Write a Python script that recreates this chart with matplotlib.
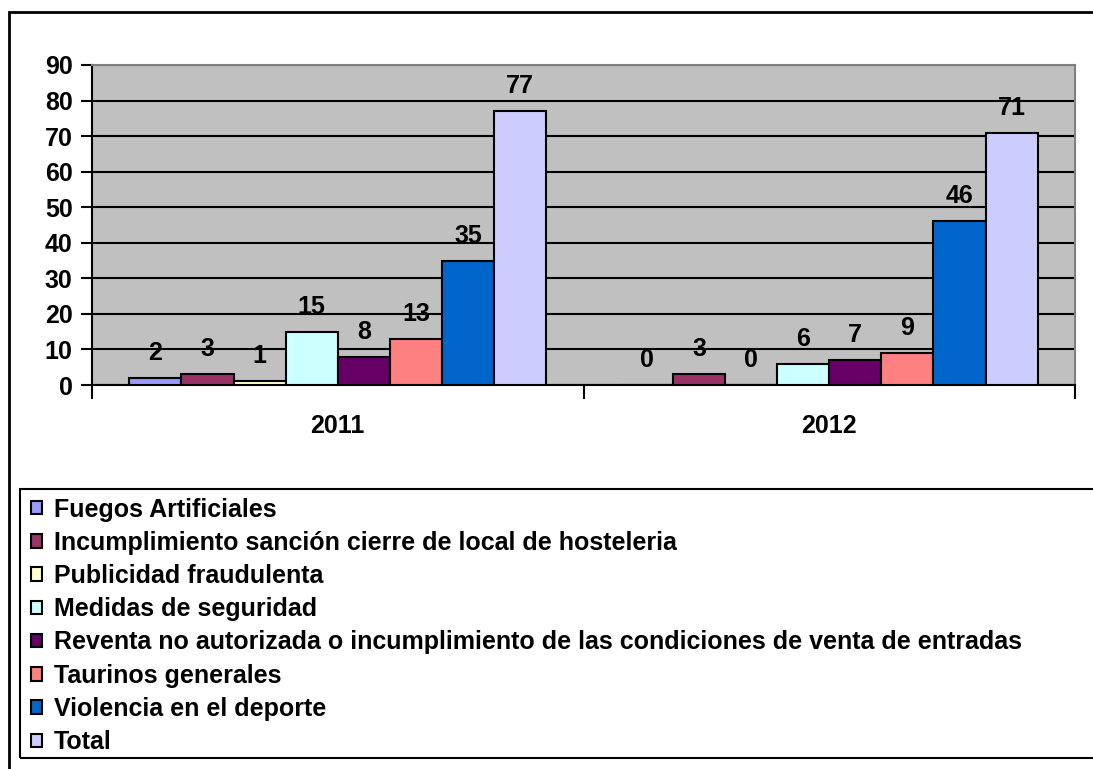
import numpy as np
import matplotlib
matplotlib.use('Agg')
import matplotlib.pyplot as plt
from matplotlib.patches import Rectangle

years = ['2011', '2012']
series = ['Fuegos Artificiales',
          'Incumplimiento sanción cierre de local de hosteleria',
          'Publicidad fraudulenta',
          'Medidas de seguridad',
          'Reventa no autorizada o incumplimiento de las condiciones de venta de entradas',
          'Taurinos generales',
          'Violencia en el deporte',
          'Total']
values_2011 = [2, 3, 1, 15, 8, 13, 35, 77]
values_2012 = [0, 3, 0, 6, 7, 9, 46, 71]
colors = ['#9999FF', '#993366', '#FFFFCC', '#CCFFFF',
          '#660066', '#FF8080', '#0066CC', '#CCCCFF']
yticks = [0, 10, 20, 30, 40, 50, 60, 70, 80, 90]

plt.rcParams['font.family'] = ['Liberation Sans', 'DejaVu Sans']
plt.rcParams['font.weight'] = 'bold'
fs = 18

W, H = 1093, 769
fig = plt.figure(figsize=(W / 100, H / 100), dpi=100)

# outer chart border (runs off the right and bottom edges)
fig.patches.append(Rectangle((9 / W, -0.1), 1.2, 1.1 - 12 / H,
                             transform=fig.transFigure, fill=False,
                             edgecolor='black', linewidth=2, zorder=0))
# legend box (also runs off the right edge)
fig.patches.append(Rectangle((20 / W, 1 - 758 / H), 1.2, (758 - 489) / H,
                             transform=fig.transFigure, fill=False,
                             edgecolor='black', linewidth=1.5, zorder=0))

ax = fig.add_axes([92 / W, 1 - 385 / H, (1075 - 92) / W, (385 - 65) / H])
ax.set_facecolor('#C0C0C0')

x = np.arange(len(years))
w = 0.106
data = np.array([values_2011, values_2012])
handles = []
for i, (name, c) in enumerate(zip(series, colors)):
    pos = x + (i - 3.5) * w
    b = ax.bar(pos, data[:, i], width=w, color=c, edgecolor='black',
               linewidth=1.5, zorder=3, label=name)
    handles.append(b)
    for xp, v in zip(pos, data[:, i]):
        ax.annotate(str(v), (xp, v), xytext=(0, 25), textcoords='offset pixels',
                    ha='center', va='center', fontsize=fs, fontweight='bold',
                    zorder=0.2)

ax.set_xlim(-0.5, 1.5)
ax.set_ylim(0, 90)
ax.set_yticks(yticks)
ax.set_yticklabels([str(t) for t in yticks], fontsize=fs, fontweight='bold')
ax.yaxis.grid(True, color='black', linewidth=1.5)
ax.set_axisbelow(True)
ax.tick_params(axis='y', length=8, width=1.5, pad=6)

ax.set_xticks([-0.5, 0.5, 1.5])
ax.set_xticklabels([])
ax.set_xticks(x, minor=True)
ax.set_xticklabels(years, minor=True, fontsize=fs, fontweight='bold')
ax.tick_params(axis='x', which='major', length=10, width=1.5)
ax.tick_params(axis='x', which='minor', length=0, pad=21)

ax.spines['left'].set_linewidth(1.5)
ax.spines['bottom'].set_linewidth(1.5)
for s in ['top', 'right']:
    ax.spines[s].set_color('#808080')
    ax.spines[s].set_linewidth(1.5)

leg = fig.legend(handles=handles, labels=series, loc='upper left',
                 bbox_to_anchor=(20 / W, 1 - 487 / H), borderaxespad=0,
                 prop={'weight': 'bold', 'size': fs},
                 handlelength=0.45, handleheight=0.45, handletextpad=0.5,
                 labelspacing=0.37, borderpad=0.42, frameon=False)
for h in leg.legend_handles:
    h.set_linewidth(1.5)

fig.savefig('out.png', dpi=100)
